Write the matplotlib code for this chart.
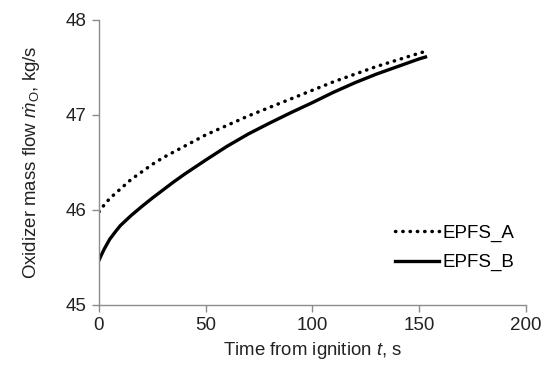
import matplotlib
matplotlib.use("Agg")
import matplotlib.pyplot as plt

# time from ignition, s
t_a = [0, 2, 5, 10, 15, 20, 25, 30, 35, 40, 45, 50, 60, 70, 80, 90, 100,
       110, 120, 130, 140, 150, 153]
epfs_a = [45.98, 46.04, 46.12, 46.22, 46.32, 46.40, 46.48, 46.55, 46.61, 46.67,
          46.73, 46.79, 46.89, 46.99, 47.08, 47.17, 47.26, 47.35, 47.43, 47.51,
          47.58, 47.65, 47.67]

t_b = [0, 1, 2.5, 5, 7.5, 10, 15, 20, 25, 30, 35, 40, 45, 50, 60, 70, 80, 90,
       100, 110, 120, 130, 140, 150, 153]
epfs_b = [45.47, 45.52, 45.59, 45.69, 45.765, 45.835, 45.94, 46.035, 46.125, 46.21,
          46.295, 46.375, 46.45, 46.525, 46.67, 46.80, 46.915, 47.025, 47.13, 47.24,
          47.34, 47.43, 47.51, 47.59, 47.61]

x_ticks = [0, 50, 100, 150, 200]
y_ticks = [45, 46, 47, 48]

plt.rcParams["font.family"] = ["Liberation Sans", "DejaVu Sans"]
plt.rcParams["mathtext.fontset"] = "custom"
plt.rcParams["mathtext.rm"] = "Liberation Sans"
plt.rcParams["mathtext.it"] = "Liberation Sans:italic"

fig = plt.figure(figsize=(5.5, 3.7), dpi=100)
ax = fig.add_axes([0.18, 0.176, 0.776, 0.77])

ax.plot(t_a, epfs_a, color="black", lw=2.5, linestyle=(0, (0.1, 2.0)),
        dash_capstyle="round", label="EPFS_A")
ax.plot(t_b, epfs_b, color="black", lw=2.4, label="EPFS_B")

ax.set_xlim(0, 200)
ax.set_ylim(45, 48)
ax.set_xticks(x_ticks)
ax.set_yticks(y_ticks)

for side in ["top", "right"]:
    ax.spines[side].set_visible(False)
for side in ["left", "bottom"]:
    ax.spines[side].set_color("#8c8c8c")
    ax.spines[side].set_linewidth(1.0)
ax.tick_params(direction="out", length=5, width=1.0, color="#8c8c8c",
               labelsize=13.5, labelcolor="#222222", pad=4)

ax.set_xlabel(r"Time from ignition $t$, s", fontsize=13.4, color="#222222", labelpad=4)
ax.set_ylabel(r"Oxidizer mass flow $\dot{m}_{\mathrm{O}}$, kg/s", fontsize=13.4,
              color="#222222", labelpad=16)

ax.legend(loc="center left", bbox_to_anchor=(0.677, 0.2), borderaxespad=0,
          frameon=False, fontsize=13.5, handlelength=2.3, handletextpad=0.2,
          labelspacing=0.65)

fig.savefig("out.png", dpi=100)
